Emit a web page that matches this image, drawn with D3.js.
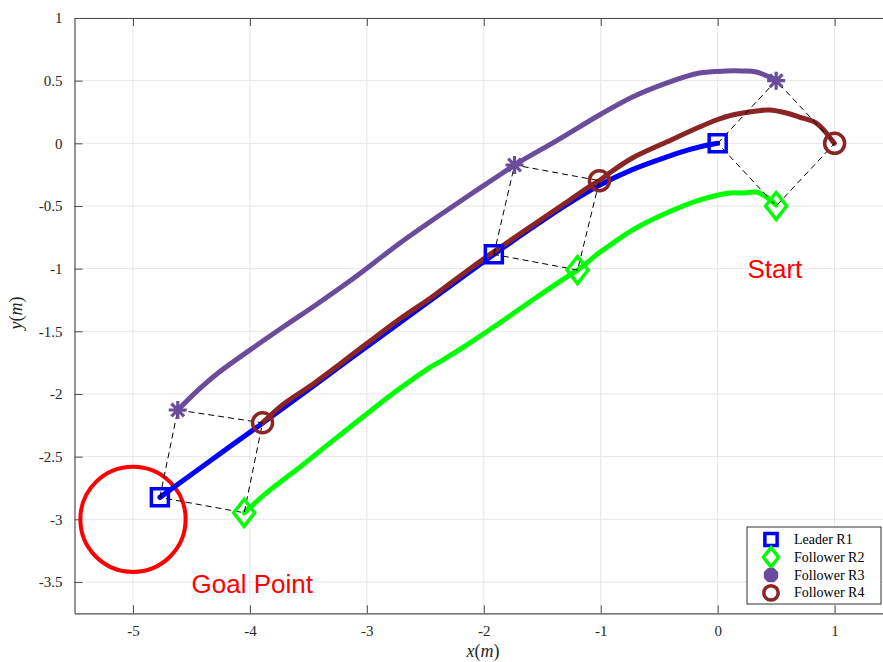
<!DOCTYPE html>
<html>
<head>
<meta charset="utf-8">
<script src="https://cdn.jsdelivr.net/npm/d3@7"></script>
<style>
  body { margin: 0; background: #fff; }
  text { font-family: "Liberation Serif", "Times New Roman", serif; }
</style>
</head>
<body>
<svg id="chart" width="883" height="662"></svg>
<script>
// Axis ticks
const xTicks = [-5, -4, -3, -2, -1, 0, 1];
const yTicks = [-3.5, -3, -2.5, -2, -1.5, -1, -0.5, 0, 0.5, 1];

// Trajectories [x, y] in metres
const leaderR1 = [
  [0, 0], [-0.15, -0.027], [-0.30, -0.066], [-0.44, -0.110], [-0.73, -0.210],
  [-1.011, -0.335], [-1.30, -0.495], [-1.60, -0.682], [-1.914, -0.886], [-2.463, -1.258],
  [-3.0, -1.622], [-3.5, -1.966], [-3.890, -2.232], [-4.172, -2.420], [-4.770, -2.825]
];
const followerR2 = [
  [0.499, -0.492], [0.416, -0.428], [0.331, -0.389], [0.211, -0.397], [0.100, -0.397],
  [-0.156, -0.453], [-0.438, -0.556], [-0.729, -0.692], [-0.925, -0.815], [-1.011, -0.872],
  [-1.198, -1.011], [-1.293, -1.067], [-1.583, -1.250], [-1.865, -1.434], [-2.147, -1.610],
  [-2.352, -1.729], [-2.463, -1.790], [-2.745, -1.975], [-3.035, -2.184], [-3.317, -2.392],
  [-3.599, -2.603], [-3.830, -2.767], [-4.049, -2.948]
];
const followerR3 = [
  [0.499, 0.505], [0.331, 0.569], [0.211, 0.577], [0.074, 0.577], [-0.156, 0.561],
  [-0.438, 0.481], [-0.729, 0.370], [-1.011, 0.226], [-1.369, 0.026], [-1.737, -0.173],
  [-1.865, -0.253], [-2.147, -0.428], [-2.437, -0.612], [-2.719, -0.797], [-2.864, -0.900],
  [-3.155, -1.105], [-3.437, -1.290], [-3.719, -1.468], [-4.001, -1.650], [-4.283, -1.840],
  [-4.450, -1.975], [-4.617, -2.128]
];
const followerR4 = [
  [0.997, 0], [0.929, 0.082], [0.843, 0.162], [0.698, 0.210], [0.587, 0.242],
  [0.442, 0.266], [0.331, 0.258], [0.126, 0.226], [-0.011, 0.186], [-0.156, 0.130],
  [-0.438, 0.010], [-0.729, -0.117], [-0.925, -0.237], [-1.011, -0.298], [-1.071, -0.330],
  [-1.293, -0.470], [-1.583, -0.655], [-1.925, -0.872], [-2.147, -1.020], [-2.437, -1.222],
  [-2.719, -1.402], [-3.001, -1.598], [-3.232, -1.762], [-3.462, -1.922], [-3.719, -2.085],
  [-3.892, -2.230]
];

// Formation snapshots (three time instants)
const snapR1 = [[0, 0], [-1.914, -0.886], [-4.770, -2.825]];
const snapR2 = [[0.5, -0.5], [-1.198, -1.011], [-4.049, -2.948]];
const snapR3 = [[0.5, 0.5], [-1.737, -0.173], [-4.617, -2.128]];
const snapR4 = [[1, 0], [-1.011, -0.298], [-3.892, -2.230]];

// Goal region
const goalPoint = [-5, -3];
const goalRadius = 0.45;

const seriesNames = ["Leader R1", "Follower R2", "Follower R3", "Follower R4"];

// ---------------------------------------------------------------
const svg = d3.select("#chart");
const plot = { left: 74.5, right: 883, top: 18, bottom: 613.3 };

const x = d3.scaleLinear().domain([-5.5, 1.4137]).range([plot.left, plot.right]);
const y = d3.scaleLinear().domain([-3.75, 1]).range([plot.bottom, plot.top]);

const axisColor = "#4d4d4d";
const textColor = "#262626";

// grid
const grid = svg.append("g");
grid.selectAll(".gx").data(xTicks).join("line")
  .attr("x1", d => x(d)).attr("x2", d => x(d))
  .attr("y1", plot.top).attr("y2", plot.bottom)
  .attr("stroke", "#e6e6e6").attr("stroke-width", 1);
grid.selectAll(".gy").data(yTicks).join("line")
  .attr("x1", plot.left).attr("x2", plot.right)
  .attr("y1", d => y(d)).attr("y2", d => y(d))
  .attr("stroke", "#e6e6e6").attr("stroke-width", 1);

const fmt = d => String(d);

// axes (ticks pointing inward)
const gBottom = svg.append("g").attr("transform", `translate(0,${plot.bottom})`)
  .call(d3.axisBottom(x).tickValues(xTicks).tickFormat(fmt).tickSizeInner(-8).tickSizeOuter(0).tickPadding(12));
const gTop = svg.append("g").attr("transform", `translate(0,${plot.top})`)
  .call(d3.axisTop(x).tickValues(xTicks).tickFormat("").tickSizeInner(-8).tickSizeOuter(0));
const gLeft = svg.append("g").attr("transform", `translate(${plot.left},0)`)
  .call(d3.axisLeft(y).tickValues(yTicks).tickFormat(fmt).tickSizeInner(-8).tickSizeOuter(0).tickPadding(12));

[gBottom, gTop, gLeft].forEach(g => {
  g.select(".domain").attr("stroke", axisColor).attr("stroke-width", 1.2);
  g.selectAll(".tick line").attr("stroke", axisColor).attr("stroke-width", 1);
  g.selectAll(".tick text").attr("fill", textColor)
    .style("font-family", "'Liberation Serif', serif").style("font-size", "15px");
});

// axis labels
const xl = svg.append("text").attr("x", 483).attr("y", 657).attr("text-anchor", "middle")
  .attr("fill", textColor).style("font-size", "18px");
xl.append("tspan").attr("font-style", "italic").text("x");
xl.append("tspan").text("(");
xl.append("tspan").attr("font-style", "italic").text("m");
xl.append("tspan").text(")");

const yl = svg.append("text").attr("transform", "translate(22,313) rotate(-90)")
  .attr("text-anchor", "middle").attr("fill", textColor).style("font-size", "18px");
yl.append("tspan").attr("font-style", "italic").text("y");
yl.append("tspan").text("(");
yl.append("tspan").attr("font-style", "italic").text("m");
yl.append("tspan").text(")");

// goal circle
svg.append("circle")
  .attr("cx", x(goalPoint[0])).attr("cy", y(goalPoint[1]))
  .attr("r", x(goalPoint[0] + goalRadius) - x(goalPoint[0]))
  .attr("fill", "none").attr("stroke", "#ff0000").attr("stroke-width", 4);

// trajectories
const colors = ["#0000ff", "#00ff00", "#6a4c9c", "#8b2525"];
const trajectories = [leaderR1, followerR2, followerR3, followerR4];
const line = d3.line().x(d => x(d[0])).y(d => y(d[1])).curve(d3.curveCatmullRom.alpha(0.5));

svg.append("g").selectAll("path").data(trajectories).join("path")
  .attr("d", line)
  .attr("fill", "none")
  .attr("stroke", (d, i) => colors[i])
  .attr("stroke-width", 5)
  .attr("stroke-linejoin", "round")
  .attr("stroke-linecap", "round");

// formation outlines: R1 -> R3 -> R4 -> R2 -> R1
const formations = snapR1.map((p, k) => [snapR1[k], snapR3[k], snapR4[k], snapR2[k], snapR1[k]]);
svg.append("g").selectAll("path").data(formations).join("path")
  .attr("d", d3.line().x(d => x(d[0])).y(d => y(d[1])))
  .attr("fill", "none").attr("stroke", "#000").attr("stroke-width", 1)
  .attr("stroke-dasharray", "6,4");

// marker shapes
function markerPath(kind, s) {
  if (kind === 0) { const h = 8.5 * s; return `M${-h},${-h}H${h}V${h}H${-h}Z`; }
  if (kind === 1) { const w = 10.5 * s, h = 13.5 * s; return `M0,${-h}L${w},0L0,${h}L${-w},0Z`; }
  if (kind === 2) {
    const r = 9 * s, d = r * 0.7071;
    return `M0,${-r}V${r}M${-r},0H${r}M${-d},${-d}L${d},${d}M${-d},${d}L${d},${-d}`;
  }
  const r = 10 * s;
  return `M${r},0A${r},${r} 0 1,1 ${-r},0A${r},${r} 0 1,1 ${r},0Z`;
}

const snaps = [snapR1, snapR2, snapR3, snapR4];
snaps.forEach((pts, i) => {
  svg.append("g").selectAll("path").data(pts).join("path")
    .attr("transform", d => `translate(${x(d[0])},${y(d[1])})`)
    .attr("d", markerPath(i, 1))
    .attr("fill", "none")
    .attr("stroke", colors[i])
    .attr("stroke-width", i === 2 ? 3.2 : 3.5);
});

// annotations
svg.append("text").attr("x", x(0.254)).attr("y", y(-1.075))
  .attr("fill", "#ff0000").style("font-family", "'Liberation Sans', Arial, sans-serif")
  .style("font-size", "26px").text("Start");
svg.append("text").attr("x", x(-4.499)).attr("y", y(-3.587))
  .attr("fill", "#ff0000").style("font-family", "'Liberation Sans', Arial, sans-serif")
  .style("font-size", "26px").text("Goal Point");

// legend
const lg = svg.append("g").attr("transform", "translate(747,527)");
lg.append("rect").attr("width", 134).attr("height", 77)
  .attr("fill", "#fff").attr("stroke", "#333").attr("stroke-width", 1);
const rows = lg.selectAll("g.row").data(seriesNames).join("g")
  .attr("class", "row")
  .attr("transform", (d, i) => `translate(0,${12.5 + i * 17.8})`);
rows.append("path")
  .attr("transform", "translate(24,0)")
  .attr("d", (d, i) => markerPath(i, i === 2 ? 0.8 : 0.72))
  .attr("fill", (d, i) => i === 0 ? "#fff" : "none")
  .attr("stroke", (d, i) => colors[i])
  .attr("stroke-width", (d, i) => i === 2 ? 5.5 : 3.5);
rows.append("text").attr("x", 47).attr("y", 4.5)
  .attr("fill", "#000").style("font-size", "14px").text(d => d);
</script>
</body>
</html>
